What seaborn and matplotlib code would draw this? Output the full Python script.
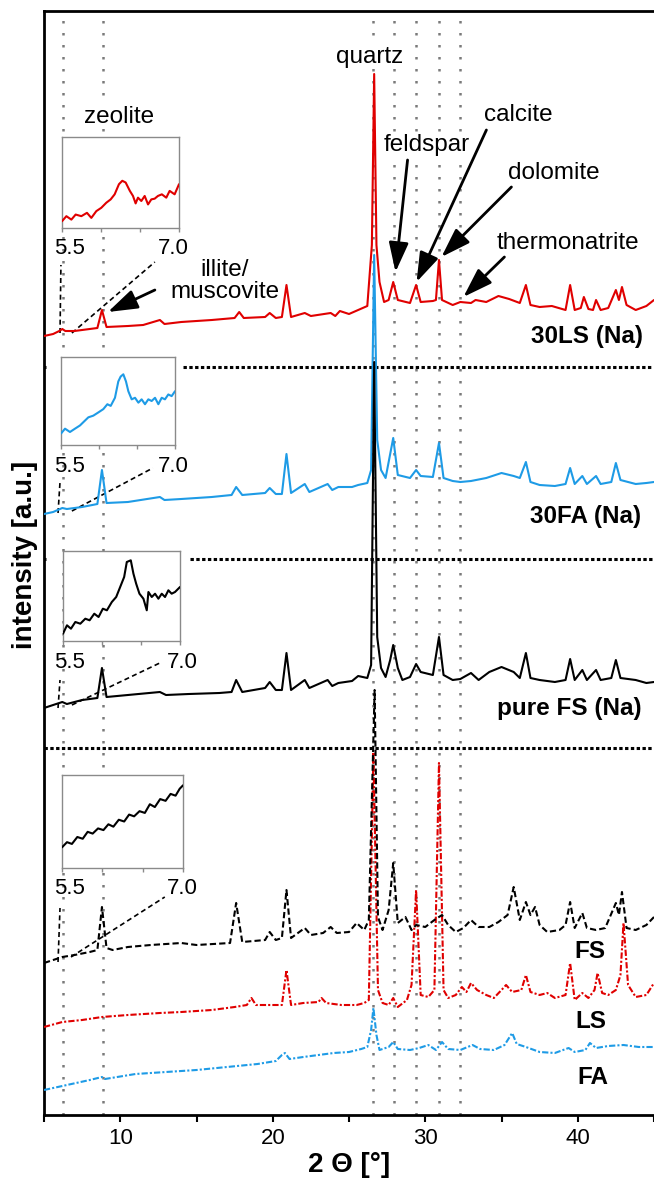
import matplotlib
matplotlib.use("Agg")
import matplotlib.pyplot as plt
import seaborn as sns
import pandas as pd

# stacked XRD patterns, (2theta, intensity a.u.)
ls30 = [(5.0, 779), (5.6, 781), (6.0, 784), (6.2, 786), (6.4, 784), (7.0, 784), (8.0, 786), (8.5, 787),
        (8.8, 805), (9.1, 788), (10.5, 789), (11.5, 790), (12.6, 795), (12.9, 791), (14.0, 793), (16.0, 795),
        (17.5, 797), (17.8, 803), (18.1, 797), (19.5, 798), (19.8, 802), (20.2, 797), (20.6, 798), (20.9, 830),
        (21.2, 798), (22.1, 802), (22.5, 799), (23.8, 802), (24.1, 799), (24.4, 804), (25.0, 801), (25.6, 805),
        (26.2, 809), (26.5, 870), (26.65, 1041), (26.8, 870), (27.0, 833), (27.3, 813), (27.6, 815), (27.9, 833),
        (28.2, 815), (29.0, 812), (29.4, 830), (29.7, 813), (30.5, 814), (30.7, 815), (30.9, 855), (31.1, 815),
        (31.8, 810), (32.3, 813), (33.0, 812), (33.3, 815), (34.0, 813), (34.8, 819), (35.5, 816), (36.2, 812),
        (36.6, 830), (36.9, 810), (37.5, 808), (38.3, 809), (39.2, 805), (39.5, 830), (39.8, 805), (40.2, 807),
        (40.4, 818), (40.7, 806), (41.0, 805), (41.2, 815), (41.5, 805), (42.0, 807), (42.5, 825), (42.7, 815),
        (42.9, 828), (43.2, 810), (43.8, 805), (44.5, 809), (45.0, 815)]

fa30 = [(5.0, 601), (5.6, 603), (6.2, 607), (6.5, 606), (7.5, 608), (8.5, 611), (8.8, 645), (9.1, 612),
        (10.5, 613), (12.6, 618), (12.9, 615), (14.0, 616), (16.0, 618), (17.3, 620), (17.6, 628), (18.0, 620),
        (19.5, 622), (19.8, 627), (20.2, 621), (20.6, 621), (20.9, 661), (21.2, 622), (22.1, 631), (22.4, 623),
        (23.6, 631), (23.9, 625), (24.3, 628), (25.2, 628), (25.6, 630), (26.2, 632), (26.45, 645), (26.65, 860),
        (26.85, 675), (27.1, 645), (27.4, 637), (27.9, 677), (28.2, 640), (29.0, 637), (29.4, 645), (29.7, 639),
        (30.5, 638), (30.9, 672), (31.2, 637), (31.8, 634), (32.3, 633), (33.0, 634), (34.0, 637), (35.0, 642),
        (35.8, 639), (36.2, 637), (36.6, 653), (36.9, 633), (37.5, 630), (38.5, 629), (39.2, 631), (39.5, 647),
        (39.8, 631), (40.3, 639), (40.6, 631), (41.2, 639), (41.5, 631), (42.2, 633), (42.5, 652), (42.8, 635),
        (43.8, 631), (44.5, 632), (45.0, 633)]

fs_pure = [(5.0, 407), (5.6, 410), (6.2, 413), (6.5, 411), (7.5, 415), (8.5, 417), (8.8, 447), (9.1, 418),
           (10.5, 420), (12.6, 423), (13.0, 420), (14.5, 421), (16.5, 422), (17.3, 423), (17.6, 435), (18.0, 423),
           (19.5, 427), (19.8, 433), (20.2, 425), (20.6, 425), (20.9, 462), (21.2, 425), (22.1, 435), (22.4, 427),
           (23.6, 435), (23.9, 429), (24.3, 432), (25.2, 434), (25.6, 439), (26.2, 437), (26.45, 450), (26.65, 753),
           (26.85, 478), (27.1, 447), (27.4, 438), (27.7, 455), (27.9, 470), (28.2, 447), (28.5, 435), (29.0, 438),
           (29.4, 451), (29.7, 443), (30.5, 440), (30.9, 478), (31.2, 440), (31.8, 435), (32.3, 436), (33.0, 442),
           (33.5, 435), (34.2, 443), (35.0, 448), (35.8, 443), (36.2, 437), (36.6, 462), (36.9, 437), (37.5, 435),
           (38.5, 433), (39.2, 435), (39.5, 456), (39.8, 435), (40.3, 445), (40.6, 435), (41.2, 445), (41.5, 435),
           (42.2, 437), (42.5, 455), (42.8, 437), (43.8, 435), (44.5, 432), (45.0, 433)]

fs_raw = [(5.0, 152), (5.6, 155), (6.2, 158), (7.0, 160), (8.0, 163), (8.5, 165), (8.8, 208), (9.1, 167),
          (9.5, 165), (10.5, 168), (12.0, 170), (14.0, 172), (15.0, 170), (17.2, 172), (17.6, 212), (18.0, 173),
          (19.5, 175), (19.8, 183), (20.2, 175), (20.6, 177), (20.9, 225), (21.2, 177), (22.1, 187), (22.5, 180),
          (23.3, 182), (23.8, 188), (24.2, 182), (25.0, 183), (25.5, 192), (26.0, 185), (26.3, 195), (26.68, 425),
          (26.9, 198), (27.2, 185), (27.6, 205), (27.9, 252), (28.2, 192), (28.7, 198), (29.1, 185), (29.4, 190),
          (30.0, 188), (30.6, 195), (31.1, 200), (31.5, 190), (32.0, 183), (32.5, 187), (33.0, 195), (33.5, 188),
          (34.2, 188), (34.8, 193), (35.4, 200), (35.8, 228), (36.2, 195), (36.6, 213), (36.9, 200), (37.2, 208),
          (37.5, 190), (38.0, 183), (38.8, 185), (39.2, 190), (39.5, 213), (39.8, 187), (40.3, 202), (40.6, 187),
          (41.2, 185), (41.8, 187), (42.5, 212), (42.7, 200), (42.9, 223), (43.2, 187), (43.8, 185), (44.5, 190),
          (45.0, 198)]

ls_raw = [(5.0, 88), (6.2, 93), (7.5, 95), (8.8, 98), (10.5, 100), (12.6, 102), (14.0, 103), (16.0, 105),
          (17.5, 108), (18.3, 110), (18.6, 117), (18.9, 110), (20.0, 110), (20.6, 110), (20.9, 145), (21.2, 110),
          (22.0, 112), (23.0, 113), (23.2, 117), (23.5, 112), (24.5, 110), (25.5, 110), (26.0, 112), (26.3, 115),
          (26.6, 363), (26.9, 125), (27.2, 112), (27.6, 110), (27.9, 117), (28.2, 108), (28.8, 115), (29.1, 130),
          (29.4, 225), (29.7, 120), (30.2, 118), (30.6, 125), (30.9, 352), (31.2, 125), (31.5, 117), (32.0, 120),
          (32.4, 128), (32.7, 123), (33.0, 132), (33.4, 125), (34.0, 120), (34.5, 117), (35.0, 125), (35.3, 130),
          (35.7, 123), (36.3, 125), (36.6, 140), (36.9, 123), (37.5, 120), (38.0, 122), (38.5, 117), (39.2, 120),
          (39.5, 152), (39.8, 115), (40.3, 122), (40.7, 117), (41.1, 125), (41.3, 142), (41.6, 122), (42.0, 120),
          (42.5, 125), (42.8, 140), (43.0, 192), (43.3, 130), (43.8, 118), (44.5, 120), (45.0, 132)]

fa_raw = [(5.0, 25), (6.5, 30), (8.0, 35), (8.8, 38), (9.0, 36), (11.0, 41), (13.0, 43), (15.0, 45), (17.0, 48),
          (19.0, 51), (20.2, 54), (20.6, 60), (20.8, 62), (21.1, 56), (22.0, 58), (23.0, 60), (24.0, 62), (25.0, 63),
          (25.8, 66), (26.2, 68), (26.45, 85), (26.6, 107), (26.8, 80), (27.0, 65), (27.6, 68), (27.9, 73), (28.2, 66),
          (29.0, 65), (29.6, 67), (30.2, 70), (30.7, 65), (31.1, 73), (31.5, 66), (32.3, 65), (33.1, 70), (33.6, 66),
          (34.5, 65), (35.2, 70), (35.7, 82), (36.0, 71), (36.6, 68), (37.5, 63), (38.5, 62), (39.4, 67), (39.8, 63),
          (40.5, 65), (40.8, 72), (41.2, 67), (42.0, 69), (43.0, 70), (44.0, 68), (45.0, 68)]

# zoomed 5.5-7.0 deg windows (zeolite region)
ls30_zoom = [(5.5, 6.7), (5.556, 11.7), (5.62, 8.3), (5.675, 13.3), (5.748, 11.7), (5.82, 15), (5.876, 10),
             (5.94, 16.7), (6.004, 20), (6.068, 25), (6.124, 28.3), (6.175, 33.3), (6.23, 43.3), (6.273, 46.7),
             (6.316, 45), (6.37, 36.7), (6.41, 31.7), (6.444, 24.3), (6.474, 30), (6.517, 26.7), (6.56, 31.7),
             (6.603, 23.3), (6.645, 28.3), (6.688, 29), (6.73, 31.7), (6.78, 33.3), (6.837, 30), (6.88, 36.7),
             (6.944, 33.3), (7.0, 43.3)]
fa30_zoom = [(5.5, 11.7), (5.553, 16.7), (5.618, 13.3), (5.684, 16.7), (5.75, 20), (5.816, 25), (5.86, 28.3),
             (5.925, 30), (5.991, 33.3), (6.057, 36.7), (6.11, 41.7), (6.154, 40), (6.21, 48.3), (6.254, 65),
             (6.285, 70), (6.32, 72.3), (6.355, 65), (6.386, 55), (6.43, 46.7), (6.474, 48.3), (6.518, 43.3),
             (6.561, 46.7), (6.605, 41.7), (6.649, 46.7), (6.693, 45), (6.737, 48.3), (6.781, 41.7), (6.825, 48.3),
             (6.868, 46.7), (6.912, 51.7), (6.956, 50), (7.0, 55)]
fs_pure_zoom = [(5.5, 7.3), (5.551, 15.7), (5.602, 12.3), (5.658, 19), (5.722, 17.3), (5.786, 22.3), (5.841, 20.7),
                (5.901, 27.3), (5.956, 24), (6.011, 32.3), (6.063, 30.7), (6.126, 39), (6.182, 44), (6.233, 54),
                (6.284, 64), (6.318, 79), (6.369, 80.7), (6.403, 67.3), (6.438, 57.3), (6.48, 47.3), (6.531, 42.3),
                (6.574, 30.7), (6.595, 49), (6.638, 44), (6.68, 47.3), (6.723, 42.3), (6.766, 47.3), (6.808, 44),
                (6.851, 50.7), (6.893, 47.3), (6.936, 49), (7.0, 54)]
fs_raw_zoom = [(5.5, 20), (5.562, 25), (5.623, 23.3), (5.69, 30), (5.757, 28.3), (5.818, 35), (5.88, 33.3),
               (5.947, 38.3), (6.014, 36.7), (6.075, 42.3), (6.137, 40), (6.204, 46.7), (6.271, 45), (6.332, 51.7),
               (6.394, 50), (6.461, 55), (6.527, 53.3), (6.589, 61.7), (6.651, 59), (6.717, 66.7), (6.784, 65),
               (6.846, 71.7), (6.908, 70), (6.959, 76.7), (7.0, 80)]

phase_lines = [6.25, 8.85, 26.6, 27.95, 29.4, 30.9, 32.3]

RED = "#e00000"
BLUE = "#1e9be6"
BLACK = "#000000"

sns.set_theme(style="ticks")
plt.rcParams["font.family"] = ["Liberation Sans", "DejaVu Sans"]
plt.rcParams["text.color"] = "black"
plt.rcParams["xtick.color"] = "black"

W, H = 654, 1181
fig = plt.figure(figsize=(W / 100, H / 100), dpi=100)
ax = fig.add_axes([44 / W, 1 - 1115 / H, 1 - 44 / W, 1104 / H])


def draw(axis, pts, color, ls="-", lw=1.5, z=3):
    df = pd.DataFrame(pts, columns=["tt", "i"])
    sns.lineplot(data=df, x="tt", y="i", ax=axis, color=color, linestyle=ls, lw=lw,
                 estimator=None, sort=False, zorder=z)


for x in phase_lines:
    ax.axvline(x, color="#7a7a7a", lw=1.8, ls=(0, (1, 3.8)), zorder=1)

# dotted separators between the sample groups (gap where the zoom boxes sit)
sep_style = dict(color="black", lw=2.2, ls=(0, (1.1, 0.8)), zorder=2)
ax.hlines(748, 5.0, 5.15, **sep_style)
ax.hlines(748, 14.1, 44.95, **sep_style)
ax.hlines(556, 5.0, 5.15, **sep_style)
ax.hlines(556, 14.55, 44.95, **sep_style)
ax.hlines(367, 5.0, 44.95, **sep_style)

draw(ax, fa_raw, BLUE, (0, (3, 1, 1, 1)), z=3)
draw(ax, ls_raw, RED, (0, (3, 1, 1, 1)), z=3.1)
draw(ax, fs_raw, BLACK, (0, (3, 1.5)), z=3.2)
draw(ax, fa30, BLUE, z=3.3)
draw(ax, fs_pure, BLACK, z=3.4)
draw(ax, ls30, RED, z=3.5)

ax.set_xlim(5, 44.95)
ax.set_ylim(0, 1104)
ax.set_xticks([10, 20, 30, 40])
ax.set_xticks([5, 15, 25, 35, 45], minor=True)
ax.set_yticks([])
ax.set_xlabel("")
ax.set_ylabel("")
ax.tick_params(axis="x", which="both", direction="out", length=5, width=1.5, labelsize=16, pad=4,
               colors="black")
ax.spines["right"].set_visible(False)
for s in ["left", "bottom", "top"]:
    ax.spines[s].set_linewidth(2)
    ax.spines[s].set_color("black")

fig.text(349 / W, 1 - 1165 / H, "2 Θ [°]", ha="center", va="center", fontsize=20, fontweight="bold")
fig.text(25 / W, 1 - 555 / H, "intensity [a.u.]", ha="center", va="center", rotation=90,
         fontsize=20, fontweight="bold")

# sample names
ax.text(44.29, 778, "30LS (Na)", ha="right", va="center", fontsize=17.5, fontweight="bold")
ax.text(44.16, 598, "30FA (Na)", ha="right", va="center", fontsize=17.5, fontweight="bold")
ax.text(44.16, 407, "pure FS (Na)", ha="right", va="center", fontsize=17.5, fontweight="bold")
ax.text(40.82, 163, "FS", ha="center", va="center", fontsize=17.5, fontweight="bold")
ax.text(40.89, 93, "LS", ha="center", va="center", fontsize=17.5, fontweight="bold")
ax.text(41.02, 37, "FA", ha="center", va="center", fontsize=17.5, fontweight="bold")

# phase labels
wbox = dict(facecolor="white", edgecolor="none", pad=0.5)
ax.text(26.35, 1058, "quartz", ha="center", va="center", fontsize=17.5, bbox=wbox, zorder=4)
ax.text(9.91, 998, "zeolite", ha="center", va="center", fontsize=17.5, bbox=wbox, zorder=4)
ax.text(30.08, 970, "feldspar", ha="center", va="center", fontsize=17.5, bbox=wbox, zorder=4)
ax.text(36.11, 1000, "calcite", ha="center", va="center", fontsize=17.5, bbox=wbox, zorder=4)
ax.text(38.46, 942, "dolomite", ha="center", va="center", fontsize=17.5, bbox=wbox, zorder=4)
ax.text(39.38, 872, "thermonatrite", ha="center", va="center", fontsize=17.5, bbox=wbox, zorder=4)
ax.text(16.85, 834, "illite/\nmuscovite", ha="center", va="center", fontsize=17.5, linespacing=1.05, zorder=4)

arrows = [((12.27, 825), (9.19, 803)), ((28.84, 955), (28.05, 843)), ((34.01, 985), (29.43, 833)),
          ((35.65, 928), (31.06, 858)), ((35.19, 858), (32.50, 818))]
for tail, head in arrows:
    ax.annotate("", xy=head, xytext=tail, zorder=5,
                arrowprops=dict(arrowstyle="-|>,head_length=0.9,head_width=0.3", color="black", lw=2,
                                mutation_scale=20, shrinkA=0, shrinkB=0))

# zoom windows and connector lines
insets = [((62, 137, 179, 228), ls30_zoom, RED, (6.70, 867), (13.45, 867),
           [(6.05, 782), (6.11, 850)], [(6.83, 782), (12.27, 853)]),
          ((61, 357, 175, 445), fa30_zoom, BLUE, (6.64, 648), (13.51, 648),
           [(5.92, 602), (6.05, 633)], [(6.83, 604), (12.14, 647)]),
          ((63, 551, 180, 641), fs_pure_zoom, BLACK, (6.64, 453), (14.10, 453),
           [(5.92, 407), (6.05, 435)], [(6.83, 410), (12.73, 453)]),
          ((62, 775, 183, 868), fs_raw_zoom, BLACK, (6.70, 227), (14.10, 227),
           [(5.92, 153), (6.05, 207)], [(6.77, 158), (12.92, 218)])]

for (l, t, r, b), pts, color, lo_pos, hi_pos, vline, dline in insets:
    ax.text(*lo_pos, "5.5", ha="center", va="center", fontsize=16)
    ax.text(*hi_pos, "7.0", ha="center", va="center", fontsize=16)
    for seg in (vline, dline):
        ax.plot([seg[0][0], seg[1][0]], [seg[0][1], seg[1][1]], color="black", lw=1.2,
                ls=(0, (3, 2)), zorder=2.5)
    axi = fig.add_axes([l / W, 1 - b / H, (r - l) / W, (b - t) / H])
    axi.set_facecolor("white")
    draw(axi, pts, color, lw=1.5)
    axi.set_xlim(5.5, 7.0)
    axi.set_ylim(0, 90)
    axi.set_xticks([5.5, 6.0, 6.5, 7.0])
    axi.set_xticklabels([])
    axi.set_yticks([])
    axi.set_xlabel("")
    axi.set_ylabel("")
    axi.tick_params(axis="x", length=3, width=1, color="#8a8a8a", direction="out")
    for s in axi.spines.values():
        s.set_visible(True)
        s.set_color("#8a8a8a")
        s.set_linewidth(1.0)

fig.savefig("out.png", dpi=100)
